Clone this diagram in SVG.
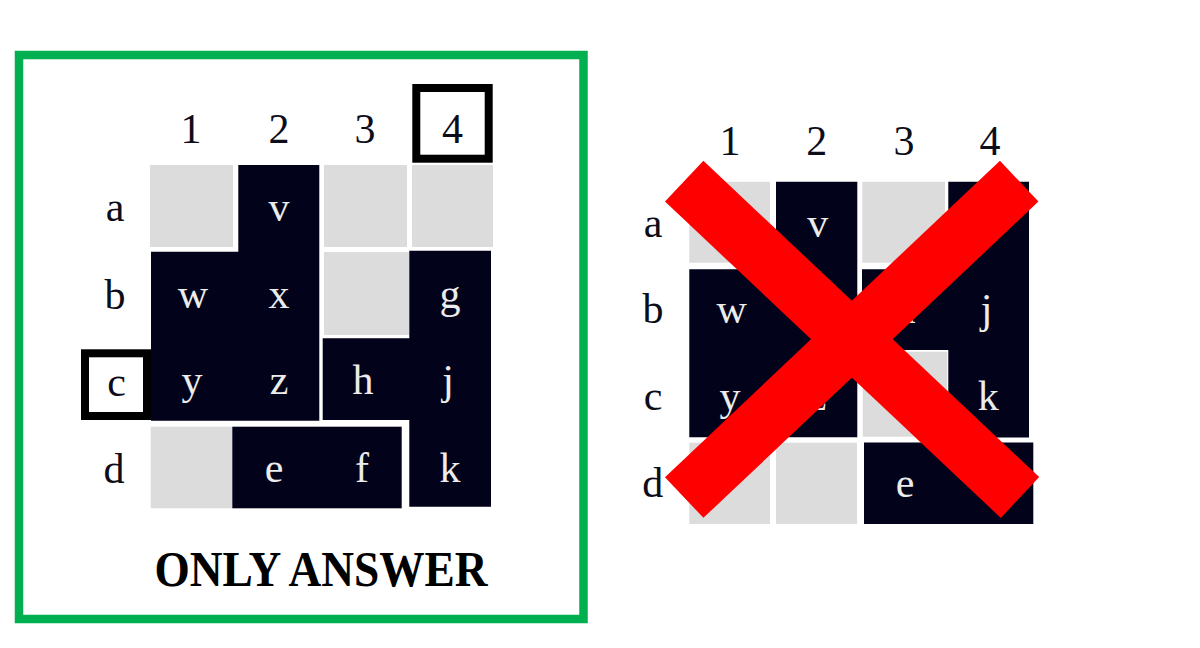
<svg xmlns="http://www.w3.org/2000/svg" width="1200" height="648" viewBox="0 0 1200 648">
<style>
.gray{fill:#dcdcdc}
.dark{fill:#02021a}
.lbl{font-family:"Liberation Serif","DejaVu Serif",serif;font-size:42px;fill:#0d0d1a;text-anchor:middle}
.cell{font-family:"Liberation Serif","DejaVu Serif",serif;font-size:42px;fill:#ececec;text-anchor:middle}
.hl{fill:none;stroke:#000;stroke-width:8}
.cross{stroke:#ff0000;stroke-width:56;stroke-linecap:butt}
</style>
<rect width="1200" height="648" fill="#ffffff"/>
<g id="answer-frame">
<rect x="19" y="55" width="564.5" height="564" fill="none" stroke="#00b050" stroke-width="8.5"/>
<text x="321" y="586" text-anchor="middle" font-family="Liberation Serif, DejaVu Serif, serif" font-weight="bold" font-size="50" textLength="333" lengthAdjust="spacingAndGlyphs" fill="#000">ONLY ANSWER</text>
</g>
<g id="left-grid">
<g id="left-cells">
<rect class="gray" x="150" y="165" width="83" height="82"/>
<rect class="gray" x="324" y="165" width="83" height="82"/>
<rect class="gray" x="412" y="165" width="81" height="82"/>
<path class="dark" d="M238.3,165 H319.3 V420.7 H151 V251.7 H238.3 Z"/>
<rect class="gray" x="324" y="252" width="85" height="83"/>
<path class="dark" d="M409.3,250.7 H491 V506.7 H409.3 V420 H322.7 V338.3 H409.3 Z"/>
<rect class="gray" x="150.7" y="426.7" width="81.6" height="81.6"/>
<rect class="dark" x="232.3" y="426.7" width="169.4" height="81.6"/>
</g>
<g id="left-labels">
<text class="lbl" x="191" y="142.7">1</text>
<text class="lbl" x="279" y="142.7">2</text>
<text class="lbl" x="365" y="142.7">3</text>
<text class="lbl" x="452.5" y="142.7">4</text>
<text class="lbl" x="115" y="221">a</text>
<text class="lbl" x="115" y="309">b</text>
<text class="lbl" x="116.5" y="396">c</text>
<text class="lbl" x="114" y="483">d</text>
</g>
<g id="left-letters">
<text class="cell" x="279" y="221">v</text>
<text class="cell" x="193" y="308">w</text>
<text class="cell" x="279" y="308">x</text>
<text class="cell" x="450" y="308">g</text>
<text class="cell" x="192" y="394">y</text>
<text class="cell" x="279" y="394">z</text>
<text class="cell" x="363" y="394">h</text>
<text class="cell" x="448" y="394">j</text>
<text class="cell" x="274" y="482">e</text>
<text class="cell" x="362" y="482">f</text>
<text class="cell" x="450" y="482">k</text>
</g>
<g id="highlights">
<rect class="hl" x="416.3" y="88" width="72.4" height="70.7"/>
<rect class="hl" x="85" y="353.3" width="62" height="62.7"/>
</g>
</g>
<g id="right-grid">
<g id="right-cells">
<rect class="gray" x="689.3" y="181.7" width="80.7" height="81"/>
<path class="dark" d="M776,181.7 H857.3 V437.3 H689.3 V269.3 H776 Z"/>
<rect class="gray" x="862.3" y="181.7" width="82.7" height="81"/>
<path class="dark" d="M948.3,181.7 H1029 V437.5 H948.3 V350 H862 V269.3 H948.3 Z"/>
<rect class="gray" x="862.7" y="351.7" width="84.6" height="85"/>
<rect class="gray" x="689.3" y="442.7" width="80.7" height="81.3"/>
<rect class="gray" x="776" y="442.7" width="81" height="81.3"/>
<rect class="dark" x="864" y="442.5" width="169.3" height="81.5"/>
</g>
<g id="right-labels">
<text class="lbl" x="730" y="155">1</text>
<text class="lbl" x="816.7" y="155">2</text>
<text class="lbl" x="904" y="155">3</text>
<text class="lbl" x="990" y="155">4</text>
<text class="lbl" x="653" y="236.5">a</text>
<text class="lbl" x="653" y="323">b</text>
<text class="lbl" x="653" y="410">c</text>
<text class="lbl" x="652.7" y="497">d</text>
</g>
<g id="right-letters">
<text class="cell" x="817.7" y="236.5">v</text>
<text class="cell" x="731.7" y="323">w</text>
<text class="cell" x="817" y="323">x</text>
<text class="cell" x="905" y="323">h</text>
<text class="cell" x="986.7" y="323">j</text>
<text class="cell" x="730" y="410">y</text>
<text class="cell" x="817" y="410">z</text>
<text class="cell" x="988.3" y="410">k</text>
<text class="cell" x="905" y="497">e</text>
</g>
<g id="cross">
<line class="cross" x1="684.2" y1="181.2" x2="1020" y2="497.5"/>
<line class="cross" x1="1019.2" y1="181.2" x2="684.2" y2="497.5"/>
</g>
</g>
</svg>
